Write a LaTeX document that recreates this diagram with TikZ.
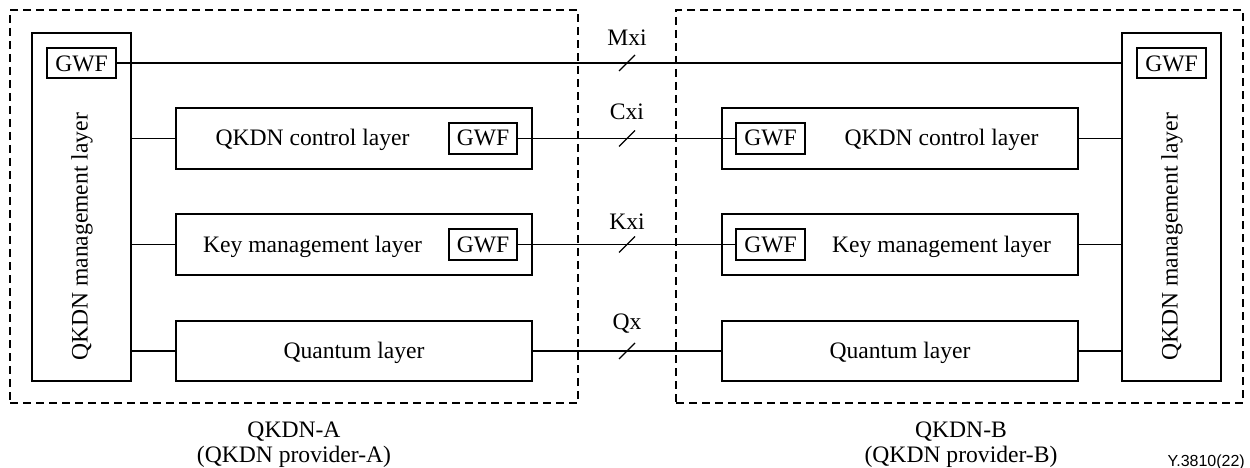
\documentclass[tikz,border=0pt]{standalone}
\usepackage{fontspec}
\setmainfont{Liberation Serif}
\newfontfamily\figsans{Liberation Sans}
\begin{document}
\begin{tikzpicture}[x=1pt,y=-1pt,
  box/.style={draw, line width=1.3pt, inner sep=0pt, outer sep=0pt},
  frame/.style={draw, line width=1.2pt, dash pattern=on 8pt off 5pt, inner sep=0pt, outer sep=0pt},
  txt/.style={font=\fontsize{23.6}{28}\selectfont, inner sep=0pt, anchor=base},
  lbl/.style={font=\fontsize{23.6}{28}\selectfont, inner sep=0pt, anchor=base},
  conn/.style={line width=1.3pt},
  slashmark/.style={line width=1.3pt}]
\useasboundingbox (0,0) rectangle (1250,468);

% dashed domain frames
\node[frame, minimum width=568, minimum height=393] (domA) at (294,206.5) {};
\node[frame, minimum width=567, minimum height=393] (domB) at (959.5,206.5) {};

% management layers
\node[box, minimum width=99, minimum height=348] (mgmtA) at (81.5,207) {};
\node[box, minimum width=69, minimum height=30] (gwfMA) at (81.5,63) {};
\node[txt] at (81.5,72) {GWF};
\node[font=\fontsize{23.6}{28}\selectfont, inner sep=0pt, rotate=90] (mgmtAtxt) at (82,237) {QKDN management layer};

\node[box, minimum width=99, minimum height=348] (mgmtB) at (1171.5,207) {};
\node[box, minimum width=69, minimum height=30] (gwfMB) at (1171.5,63) {};
\node[txt] at (1171.5,72) {GWF};
\node[font=\fontsize{23.6}{28}\selectfont, inner sep=0pt, rotate=90] (mgmtBtxt) at (1172,237) {QKDN management layer};

% provider A layers
\node[box, minimum width=356, minimum height=61] (ctrlA) at (354,138.5) {};
\node[box, minimum width=68, minimum height=31] (gwfCA) at (483,138.5) {};
\node[txt] at (483,146) {GWF};
\node[txt] (ctrlAtxt) at (312.5,146) {QKDN control layer};

\node[box, minimum width=356, minimum height=61] (keyA) at (354,244.5) {};
\node[box, minimum width=68, minimum height=31] (gwfKA) at (483,244.5) {};
\node[txt] at (483,252) {GWF};
\node[txt] (keyAtxt) at (312.5,252) {Key management layer};

\node[box, minimum width=356, minimum height=60] (qA) at (354,351) {};
\node[txt] (qAtxt) at (354,358.5) {Quantum layer};

% provider B layers
\node[box, minimum width=356, minimum height=61] (ctrlB) at (900,138.5) {};
\node[box, minimum width=69, minimum height=31] (gwfCB) at (770.5,138.5) {};
\node[txt] at (770.5,146) {GWF};
\node[txt] (ctrlBtxt) at (941.5,146) {QKDN control layer};

\node[box, minimum width=356, minimum height=61] (keyB) at (900,244.5) {};
\node[box, minimum width=69, minimum height=31] (gwfKB) at (770.5,244.5) {};
\node[txt] at (770.5,252) {GWF};
\node[txt] (keyBtxt) at (941.5,252) {Key management layer};

\node[box, minimum width=356, minimum height=60] (qB) at (900,351) {};
\node[txt] (qBtxt) at (900,358.5) {Quantum layer};

% internal connectors
\draw[conn] (ctrlA.west -| mgmtA.east) -- (ctrlA.west);
\draw[conn] (keyA.west -| mgmtA.east) -- (keyA.west);
\draw[conn] (qA.west -| mgmtA.east) -- (qA.west);
\draw[conn] (ctrlB.east) -- (ctrlB.east -| mgmtB.west);
\draw[conn] (keyB.east) -- (keyB.east -| mgmtB.west);
\draw[conn] (qB.east) -- (qB.east -| mgmtB.west);

% inter-domain reference points
\draw[conn] (gwfMA.east) -- (gwfMA.east -| mgmtB.west);
\draw[conn] (gwfCA.east) -- (gwfCB.west);
\draw[conn] (gwfKA.east) -- (gwfKB.west);
\draw[conn] (qA.east) -- (qB.west);

% slashes
\foreach \yy in {63,138.5,244.5,351}{
  \draw[slashmark] (619,\yy+8) -- (635,\yy-8);
}

% reference point labels
\node[lbl] (mxi) at (627,46) {Mxi};
\node[lbl] (cxi) at (627,120) {Cxi};
\node[lbl] (kxi) at (627,229) {Kxi};
\node[lbl] (qx) at (627,329) {Qx};

% captions
\node[txt] (capA1) at (294,437) {QKDN-A};
\node[txt] (capA2) at (294,462) {(QKDN provider-A)};
\node[txt] (capB1) at (961,437) {QKDN-B};
\node[txt] (capB2) at (961,462) {(QKDN provider-B)};
\node[font=\figsans\fontsize{16}{19}\selectfont, inner sep=0pt, anchor=base east] (figid) at (1245,466) {Y.3810(22)};
\end{tikzpicture}
\end{document}
